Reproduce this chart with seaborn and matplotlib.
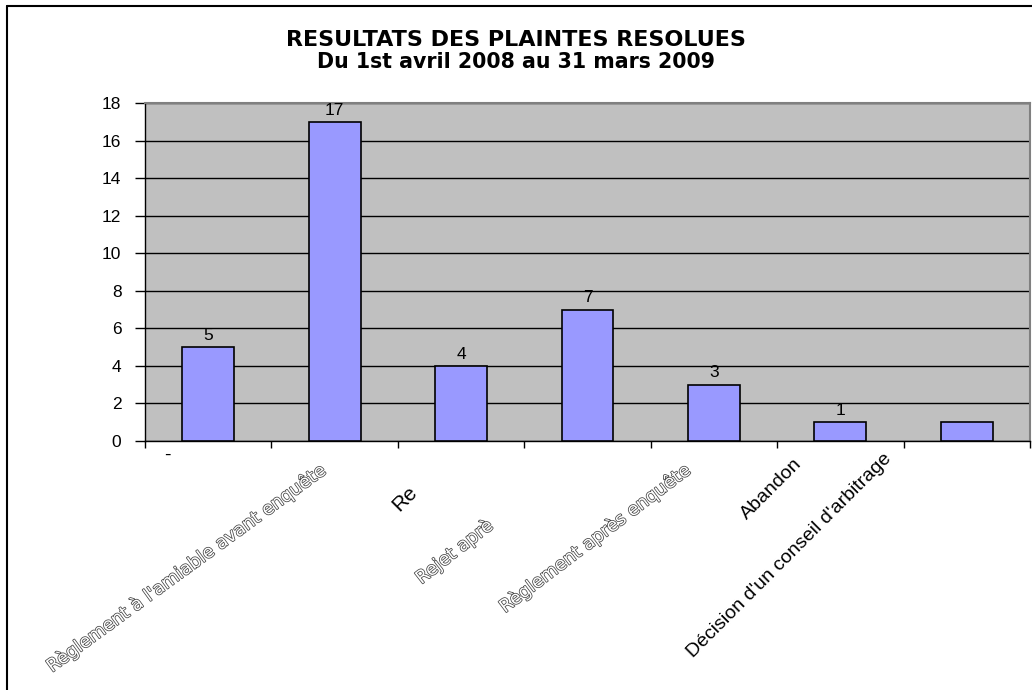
import numpy as np
import pandas as pd
import matplotlib
matplotlib.use('Agg')
import matplotlib.pyplot as plt
import matplotlib.patheffects as pe
from matplotlib.transforms import ScaledTranslation
from matplotlib.lines import Line2D
import seaborn as sns

# ---- data ----
title = "RESULTATS DES PLAINTES RESOLUES"
subtitle = "Du 1st avril 2008 au 31 mars 2009"
categories = ["-", "Règlement à l'amiable avant enquête", "Re", "Rejet aprè",
              "Règlement après enquête", "Abandon", "Décision d'un conseil d'arbitrage"]
values = [5, 17, 4, 7, 3, 1, 1]
value_labels = ["5", "17", "4", "7", "3", "1", ""]
y_ticks = [0, 2, 4, 6, 8, 10, 12, 14, 16, 18]

# ---- label styling (offsets in px from the category centre at the axis) ----
lab_dx = [-41, -16, -54, -102, -31, -47, -84]
lab_dy = [14, 20, 41, 75, 20, 14, 9]
lab_rot = [0, 36, 45, 38, 37, 45, 45]
lab_ha = ['center', 'right', 'right', 'right', 'right', 'right', 'right']
lab_va = ['center', 'top', 'top', 'top', 'top', 'top', 'top']
lab_hollow = [False, True, False, True, True, False, False]
lab_size = [14, 13, 15, 13, 13, 14, 14]

sns.set_theme(style='white')
plt.rcParams['font.family'] = ['Liberation Sans', 'DejaVu Sans']
plt.rcParams['text.color'] = 'black'
plt.rcParams['xtick.color'] = 'black'
plt.rcParams['ytick.color'] = 'black'
plt.rcParams['axes.labelcolor'] = 'black'

W, H = 1032, 690
fig = plt.figure(figsize=(W / 100, H / 100), dpi=100)
fig.patch.set_facecolor('white')
ax = fig.add_axes([145 / W, 1 - 441 / H, (1030 - 145) / W, (441 - 103) / H])
ax.set_facecolor('#C0C0C0')

df = pd.DataFrame({'cat': categories, 'val': values})
sns.barplot(data=df, x='cat', y='val', color='#9999FF', saturation=1,
            edgecolor='black', linewidth=1.2, width=0.41, ax=ax, zorder=3)

ax.set_xlim(-0.5, len(categories) - 0.5)
ax.set_ylim(0, 18)
ax.set_yticks(y_ticks)
ax.set_yticklabels([str(t) for t in y_ticks], fontsize=12.5, color='black')
ax.set_xticks(np.arange(len(categories) + 1) - 0.5)
ax.set_xticklabels([])
ax.set_xlabel('')
ax.set_ylabel('')
ax.tick_params(axis='y', length=7, width=1, color='black', direction='out', pad=10, left=True)
ax.tick_params(axis='x', length=5, width=1, color='black', direction='out', bottom=True)

ax.yaxis.grid(True, color='black', linewidth=1)
ax.xaxis.grid(False)
ax.set_axisbelow(True)

for s in ['left', 'bottom']:
    ax.spines[s].set_color('black')
    ax.spines[s].set_linewidth(1)
for s in ['top', 'right']:
    ax.spines[s].set_color('#808080')
    ax.spines[s].set_linewidth(1.5)

ax.bar_label(ax.containers[0], labels=value_labels, padding=3, fontsize=12.5, color='black')

# category labels
base = ax.get_xaxis_transform()
for i, lab in enumerate(categories):
    tr = base + ScaledTranslation(lab_dx[i] / 100, -lab_dy[i] / 100, fig.dpi_scale_trans)
    if lab_hollow[i]:
        ax.text(i, 0, lab, transform=tr, rotation=lab_rot[i], ha=lab_ha[i], va=lab_va[i],
                rotation_mode='anchor', fontsize=lab_size[i], color='white',
                family=['DejaVu Sans'], clip_on=False,
                path_effects=[pe.withStroke(linewidth=1.1, foreground='#444444')])
    else:
        ax.text(i, 0, lab, transform=tr, rotation=lab_rot[i], ha=lab_ha[i], va=lab_va[i],
                rotation_mode='anchor', fontsize=lab_size[i], color='black',
                clip_on=False)

fig.text(0.5, 1 - 40 / H, title, ha='center', va='center', fontsize=16,
         fontweight='bold', family=['DejaVu Sans'], color='black')
fig.text(0.5, 1 - 62 / H, subtitle, ha='center', va='center', fontsize=14.8,
         fontweight='bold', family=['DejaVu Sans'], color='black')

# outer chart border (left and top visible)
fig.add_artist(Line2D([7 / W, 7 / W], [0, 1 - 6 / H], transform=fig.transFigure,
                      color='black', linewidth=1.5))
fig.add_artist(Line2D([7 / W, 1], [1 - 6 / H, 1 - 6 / H], transform=fig.transFigure,
                      color='black', linewidth=1.5))

fig.savefig('out.png', dpi=100)
